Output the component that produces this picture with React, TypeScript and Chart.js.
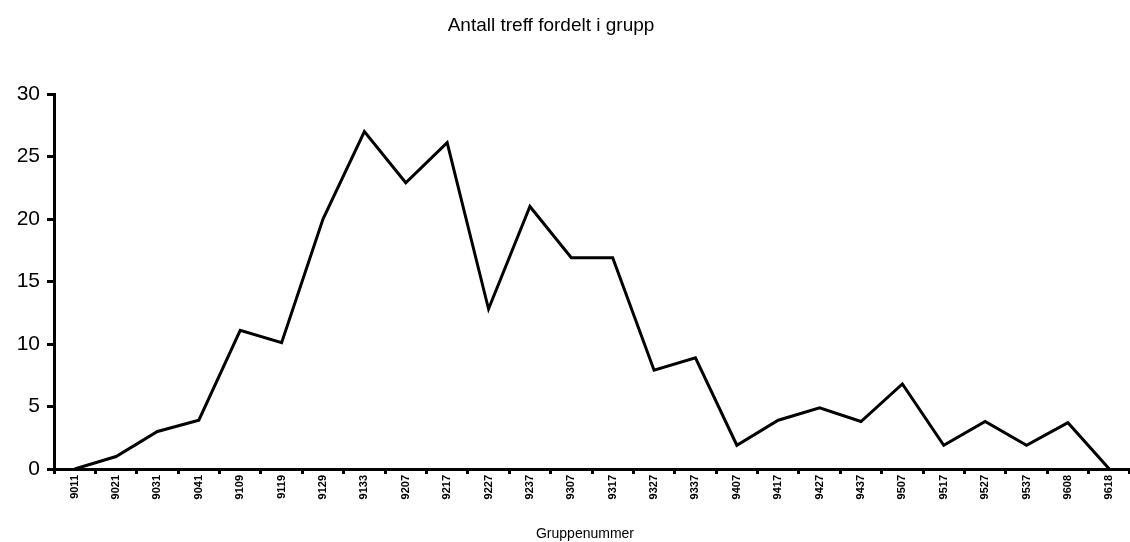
import React, { useEffect, useRef } from "react";
import { Chart, registerables } from "chart.js";

Chart.register(...registerables);

const categories = [
  "9011", "9021", "9031", "9041", "9109", "9119", "9129", "9133", "9207", "9217",
  "9227", "9237", "9307", "9317", "9327", "9337", "9407", "9417", "9427", "9437",
  "9507", "9517", "9527", "9537", "9608", "9618",
];
const treff = [0, 1, 3, 3.9, 11.1, 10.1, 20, 27, 22.9, 26.1, 12.8, 21, 16.9, 16.9, 7.9, 8.9, 1.9, 3.9, 4.9, 3.8, 6.8, 1.9, 3.8, 1.9, 3.7, 0];
const yTicks = [0, 5, 10, 15, 20, 25, 30];
const titleText = "Antall treff fordelt i grupp";
const xTitle = "Gruppenummer";

const FONT = "Liberation Sans, Arial, sans-serif";

const textPlugin = {
  id: "textPlugin",
  afterDraw(chart: any) {
    const ctx = chart.ctx;
    ctx.save();
    ctx.fillStyle = "#000";
    ctx.textAlign = "center";
    ctx.textBaseline = "alphabetic";
    ctx.font = `19px ${FONT}`;
    ctx.fillText(titleText, 551, 31);
    ctx.font = `14px ${FONT}`;
    ctx.fillText(xTitle, 585, 538);
    ctx.restore();
  },
};

export default function App() {
  const ref = useRef<HTMLCanvasElement | null>(null);
  useEffect(() => {
    if (!ref.current) return;
    const chart = new Chart(ref.current, {
      type: "line",
      data: {
        labels: categories,
        datasets: [
          {
            data: treff,
            borderColor: "#000",
            borderWidth: 3,
            pointRadius: 0,
            tension: 0,
            fill: false,
          },
        ],
      },
      plugins: [textPlugin],
      options: {
        animation: false,
        responsive: false,
        layout: { padding: { left: 0, right: 0, top: 94, bottom: 0 } },
        plugins: {
          legend: { display: false },
          tooltip: { enabled: false },
          title: { display: false },
        },
        scales: {
          x: {
            type: "category",
            offset: true,
            grid: {
              offset: true,
              drawOnChartArea: false,
              drawTicks: true,
              tickLength: 5,
              tickWidth: 3,
              tickColor: "#000",
            },
            border: { display: true, color: "#000", width: 3 },
            ticks: {
              color: "#000",
              minRotation: 90,
              maxRotation: 90,
              autoSkip: false,
              padding: 1,
              font: { family: FONT, size: 11, weight: "bold" },
            },
            afterFit: (scale: any) => {
              scale.height = 73;
            },
          },
          y: {
            min: 0,
            max: 30,
            afterBuildTicks: (scale: any) => {
              scale.ticks = yTicks.map((v) => ({ value: v }));
            },
            grid: {
              drawOnChartArea: false,
              drawTicks: true,
              tickLength: 7,
              tickWidth: 3,
              tickColor: "#000",
            },
            border: { display: true, color: "#000", width: 3 },
            ticks: {
              color: "#000",
              padding: 7,
              font: { family: FONT, size: 21 },
            },
            afterFit: (scale: any) => {
              scale.width = 54;
            },
          },
        },
      },
    });
    return () => chart.destroy();
  }, []);
  return (
    <div style={{ position: "absolute", left: 0, top: 0, width: 1130, height: 542, background: "#fff" }}>
      <canvas ref={ref} width={1130} height={542} style={{ display: "block" }} />
    </div>
  );
}
